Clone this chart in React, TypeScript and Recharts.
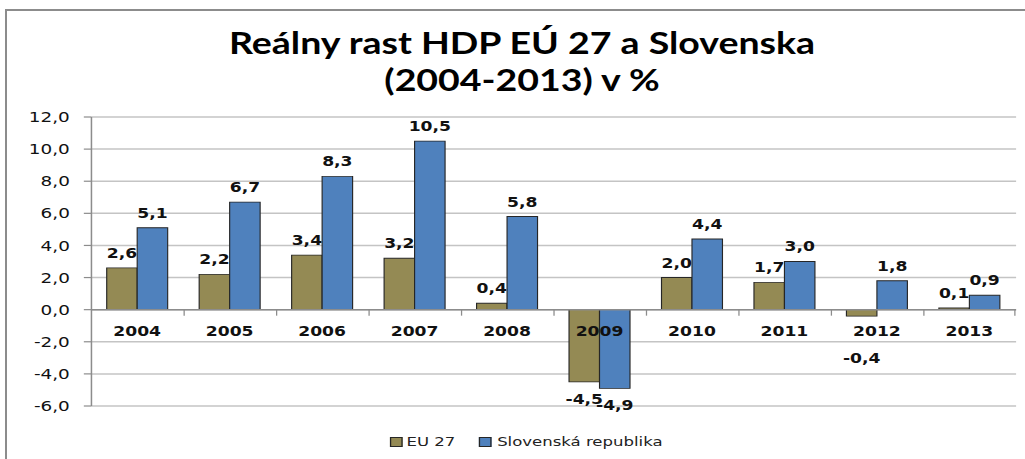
import React from 'react';
import { ComposedChart, Bar, XAxis, YAxis, CartesianGrid, ReferenceLine, LabelList, Legend } from 'recharts';

const years = ['2004', '2005', '2006', '2007', '2008', '2009', '2010', '2011', '2012', '2013'];
const eu27 = [2.6, 2.2, 3.4, 3.2, 0.4, -4.5, 2.0, 1.7, -0.4, 0.1];
const slovakia = [5.1, 6.7, 8.3, 10.5, 5.8, -4.9, 4.4, 3.0, 1.8, 0.9];
const yTicks = [-6, -4, -2, 0, 2, 4, 6, 8, 10, 12];
const seriesNames = ['EU 27', 'Slovenská republika'];
const titleLines = ['Reálny rast HDP EÚ 27 a Slovenska', '(2004-2013) v %'];

const data = years.map((y, i) => ({ year: y, eu: eu27[i], sk: slovakia[i] }));

const EU_COLOR = '#948A54';
const SK_COLOR = '#4F81BD';
const BAR_STROKE = '#262626';
const AXIS_GRAY = '#8c8c8c';
const GRID_GRAY = '#c4c4c4';
const TXT = '#111';
const FONT = '"DejaVu Sans", Verdana, sans-serif';

const BASE_W = 807;
const H = 459;
const S = 1025 / BASE_W;
const CAT_GAP = 0.165;

const fmt = (v: number) => v.toFixed(1).replace('.', ',');

const box = (props: any) => {
  const vb = props.viewBox && props.viewBox.width !== undefined ? props.viewBox : props;
  const x = Number(vb.x);
  const y = Number(vb.y);
  const w = Number(vb.width);
  const h = Number(vb.height);
  return { x, w, top: Math.min(y, y + h), bottom: Math.max(y, y + h) };
};

const ValueLabel = (props: any) => {
  const v = Number(props.value);
  const { x, w, top, bottom } = box(props);
  const cx = x + w / 2;
  let ty: number;
  if (v >= 0) {
    ty = top - 10;
  } else {
    ty = Math.max(bottom + 22, top + 53);
  }
  return (
    <text x={cx} y={ty} textAnchor="middle" fill={TXT} fontFamily={FONT} fontWeight="bold" fontSize={13.5}>
      {fmt(v)}
    </text>
  );
};

const CatLabel = (props: any) => {
  const idx = Number(props.index);
  const v = slovakia[idx];
  const { x, w, top, bottom } = box(props);
  const zeroY = v >= 0 ? bottom : top;
  const band = (2 * w) / (1 - 2 * CAT_GAP);
  const left = x - band / 2;
  const right = x + band / 2;
  return (
    <g>
      {idx > 0 && <line x1={left} x2={left} y1={zeroY} y2={zeroY + 6} stroke={AXIS_GRAY} strokeWidth={1} />}
      {idx === years.length - 1 && (
        <line x1={right} x2={right} y1={zeroY} y2={zeroY + 6} stroke={AXIS_GRAY} strokeWidth={1} />
      )}
      <text x={x} y={zeroY + 26} textAnchor="middle" fill={TXT} fontFamily={FONT} fontWeight="bold" fontSize={13.5}>
        {props.value}
      </text>
    </g>
  );
};

const renderLegend = () => (
  <div style={{ display: 'flex', alignItems: 'center', fontFamily: FONT, fontSize: 13, color: '#222', whiteSpace: 'nowrap' }}>
    <span style={{ display: 'inline-block', width: 8, height: 8, background: EU_COLOR, border: `1px solid ${BAR_STROKE}`, marginRight: 3 }} />
    <span>{seriesNames[0]}</span>
    <span style={{ display: 'inline-block', width: 8, height: 8, background: SK_COLOR, border: `1px solid ${BAR_STROKE}`, marginLeft: 19, marginRight: 4 }} />
    <span>{seriesNames[1]}</span>
  </div>
);

export default function App() {
  return (
    <div style={{ position: 'absolute', left: 0, top: 0, width: 1025, height: H, overflow: 'hidden', background: '#fff' }}>
      <div
        style={{
          position: 'absolute',
          left: 5,
          top: 9,
          width: 1100,
          height: 500,
          borderTop: `2px solid ${AXIS_GRAY}`,
          borderLeft: `2px solid ${AXIS_GRAY}`,
        }}
      />
      <div style={{ position: 'absolute', left: 0, top: 0, width: BASE_W, height: H, transform: `scaleX(${S})`, transformOrigin: '0 0' }}>
        <div
          style={{
            position: 'absolute',
            left: 0,
            top: 24,
            width: 822,
            textAlign: 'center',
            fontFamily: 'Lato, "Open Sans", sans-serif',
            fontWeight: 700,
            fontSize: 29.5,
            lineHeight: '37px',
            color: '#000',
            zIndex: 2,
          }}
        >
          {titleLines.map((t) => (
            <div key={t}>{t}</div>
          ))}
        </div>
        <ComposedChart
          width={BASE_W}
          height={H}
          data={data}
          margin={{ top: 117, right: 7, bottom: 53, left: 0 }}
          barCategoryGap={`${CAT_GAP * 100}%`}
          barGap={0}
        >
          <CartesianGrid vertical={false} stroke={GRID_GRAY} strokeWidth={1.5} />
          <XAxis dataKey="year" hide />
          <YAxis
            width={72}
            domain={[-6, 12]}
            ticks={yTicks}
            interval={0}
            tickFormatter={fmt}
            axisLine={{ stroke: AXIS_GRAY, strokeWidth: 1.2 }}
            tickLine={{ stroke: AXIS_GRAY, strokeWidth: 1.2 }}
            tickSize={6}
            tickMargin={11}
            tick={{ fill: TXT, fontFamily: FONT, fontSize: 14.5 }}
          />
          <ReferenceLine y={0} stroke={AXIS_GRAY} strokeWidth={1.5} />
          <Bar dataKey="eu" name={seriesNames[0]} fill={EU_COLOR} stroke={BAR_STROKE} strokeWidth={0.9} isAnimationActive={false}>
            <LabelList dataKey="eu" content={ValueLabel} />
          </Bar>
          <Bar dataKey="sk" name={seriesNames[1]} fill={SK_COLOR} stroke={BAR_STROKE} strokeWidth={0.9} isAnimationActive={false}>
            <LabelList dataKey="sk" content={ValueLabel} />
            <LabelList dataKey="year" content={CatLabel} />
          </Bar>
          <Legend
            layout="horizontal"
            verticalAlign="middle"
            align="center"
            content={renderLegend}
            wrapperStyle={{ position: 'absolute', left: 307, top: 434, width: 'auto', height: 16 }}
          />
        </ComposedChart>
      </div>
    </div>
  );
}
